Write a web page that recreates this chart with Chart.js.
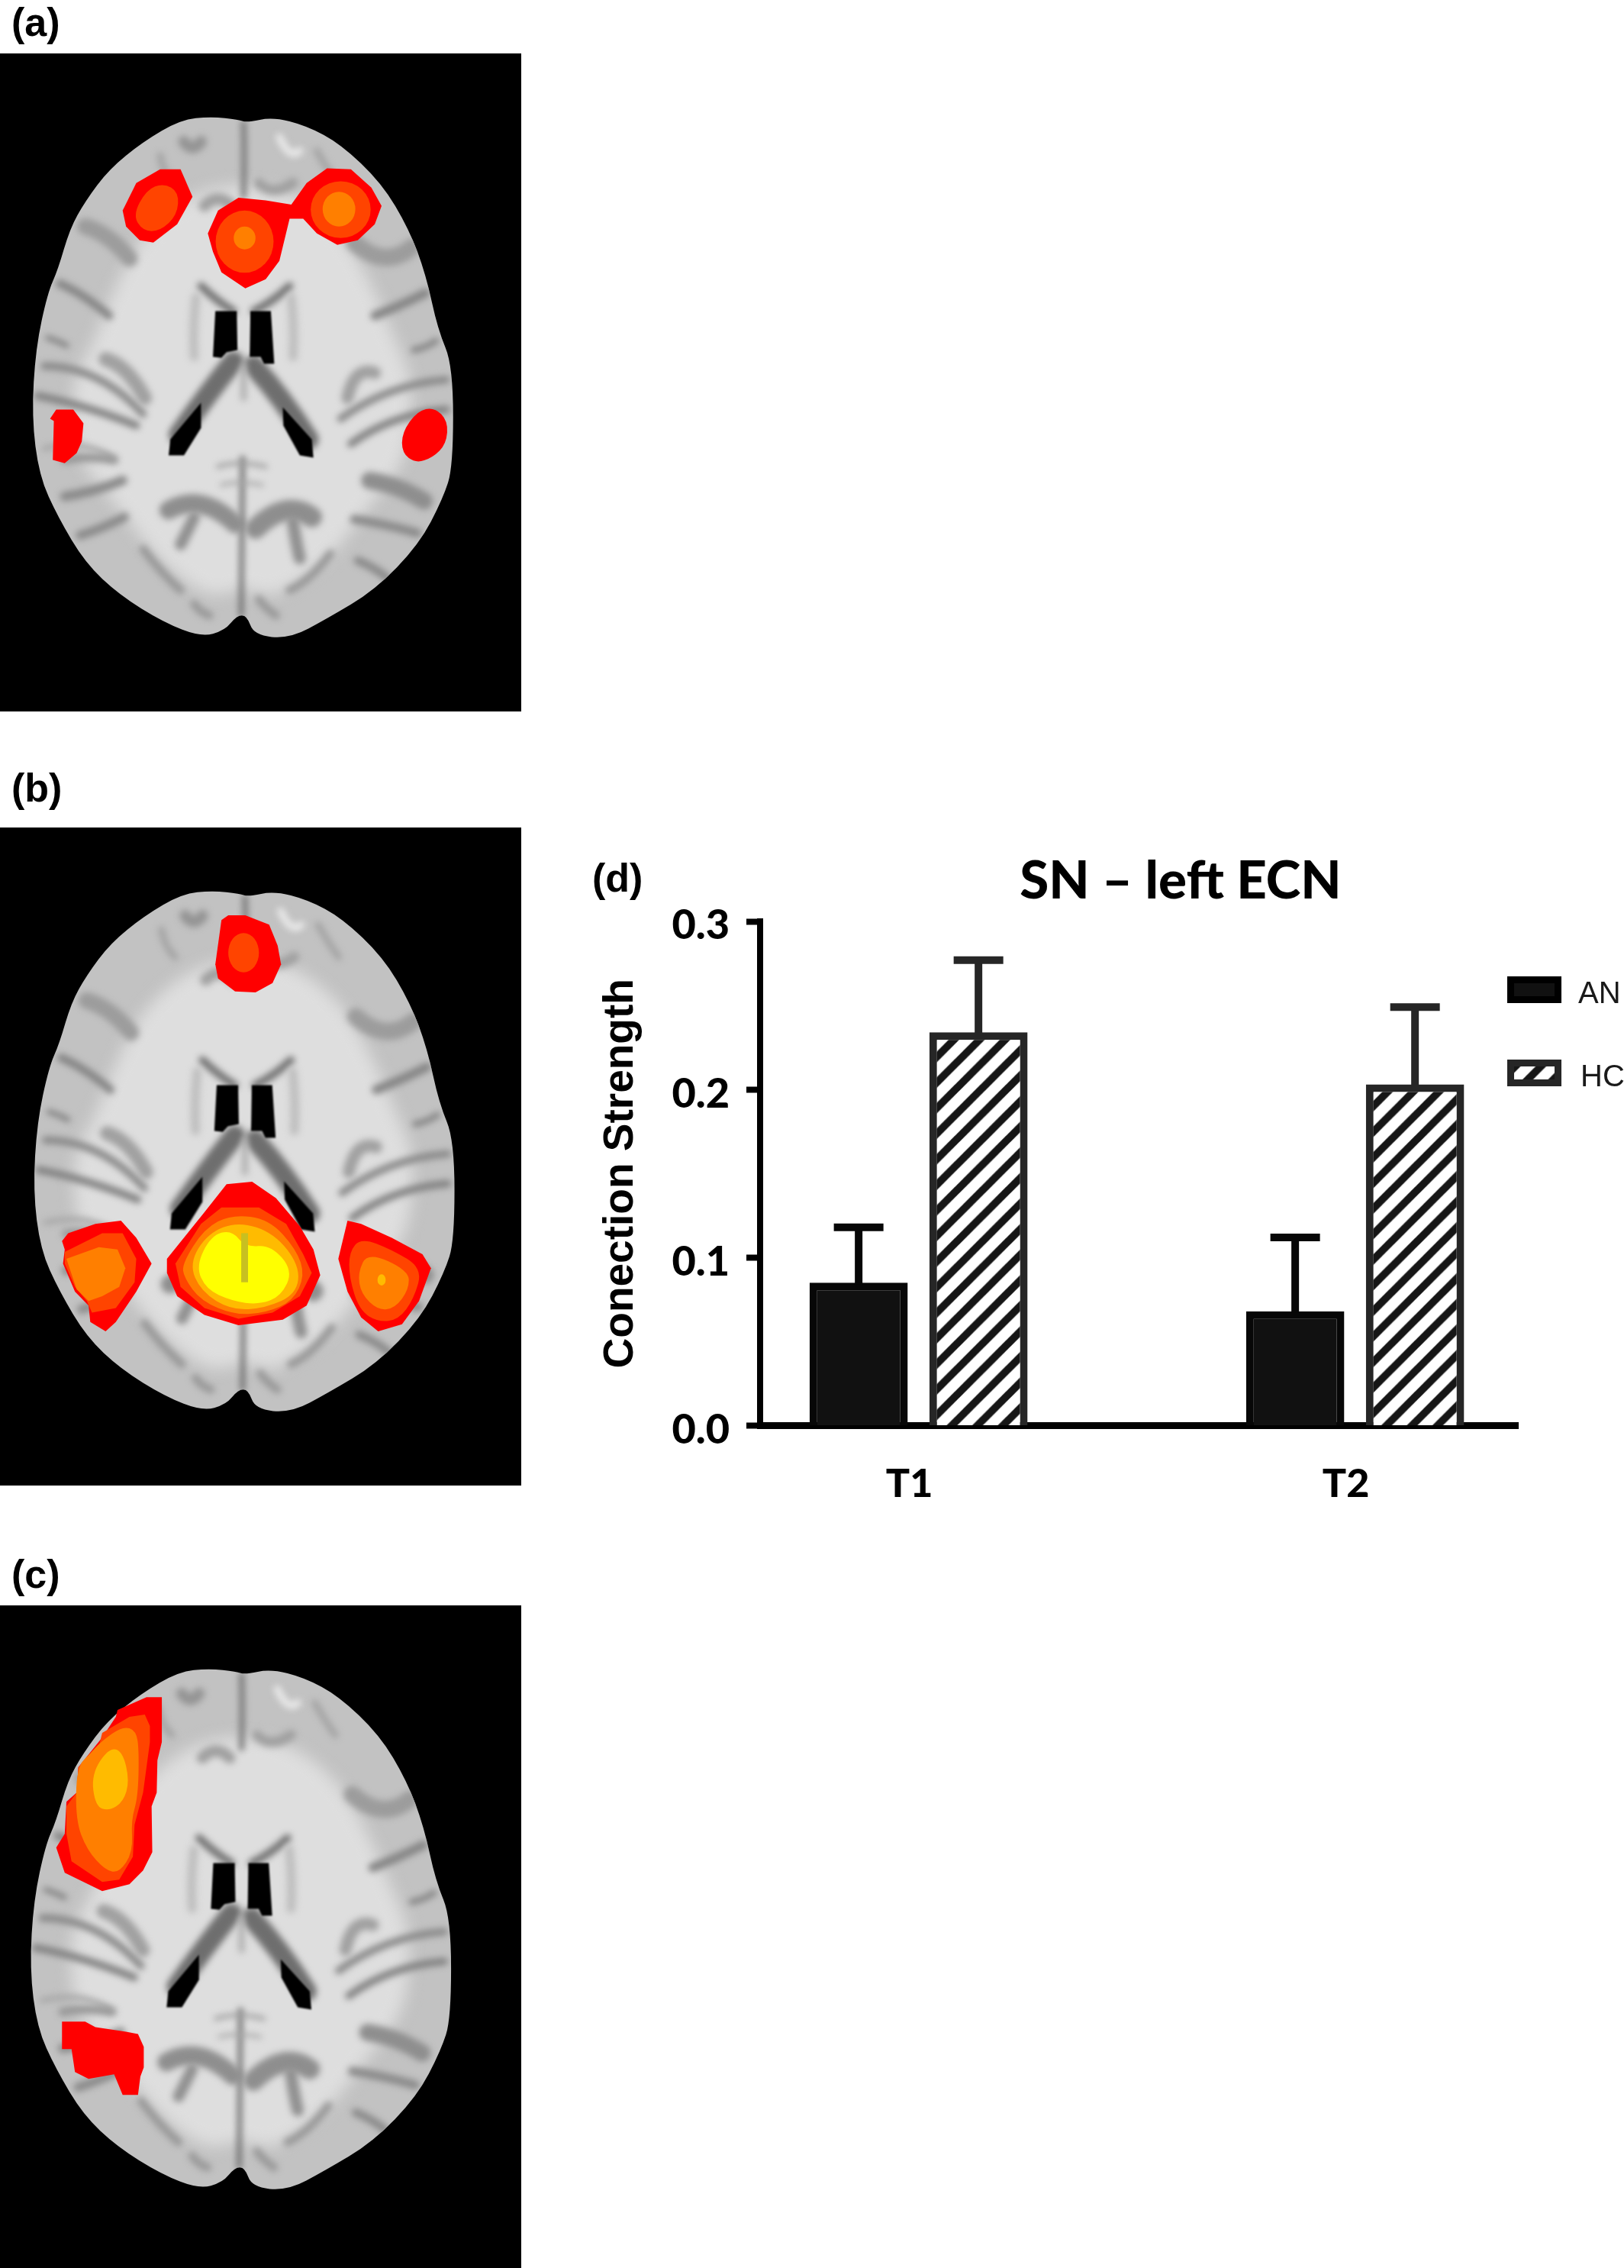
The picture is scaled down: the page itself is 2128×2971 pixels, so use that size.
<!DOCTYPE html>
<html><head><meta charset="utf-8">
<style>
html,body{margin:0;padding:0;background:#fff;width:2128px;height:2971px;overflow:hidden}
canvas{position:absolute;display:block}
.lab{position:absolute;font:bold 52px "Liberation Sans";color:#000;line-height:60px;white-space:nowrap}
</style>
<script src="https://cdn.jsdelivr.net/npm/chart.js@4"></script>
</head><body>
<canvas id="brains" width="700" height="2971" style="left:0;top:0"></canvas>
<div class="lab" style="left:15px;top:-1px">(a)</div>
<div class="lab" style="left:15px;top:1002px">(b)</div>
<div class="lab" style="left:15px;top:2032px">(c)</div>
<div class="lab" style="left:776px;top:1120px">(d)</div>
<canvas id="chart" width="1368" height="900" style="left:760px;top:1090px;width:1368px;height:900px"></canvas>
<script>
const categories = ['T1','T2'];
const seriesNames = ['AN','HC'];
const anValues = [0.085,0.068];
const hcValues = [0.234,0.203];
const anErrorTop = [0.118,0.112];
const hcErrorTop = [0.277,0.249];
const yTickValues = [0,0.1,0.2,0.3];
const categoryPositions = [1,2];
const titleText = 'SN \u2013 left ECN';
const yTitle = 'Conection Strength';

/* ---------- brain illustrations (a)-(c) ---------- */
const bc = document.getElementById('brains').getContext('2d');
const SX = 2.24;
const panels = {
  a:{top:70, bottom:932, sy:1.668, base:0, shift:0},
  b:{top:1084, bottom:1946, sy:1.633, base:1000, shift:4},
  c:{top:2103, bottom:2971, sy:1.666, base:2030, shift:-6}
};
const outline = [[700,262],[620,255],[530,262],[420,310],[320,370],[250,440],[205,500],[170,590],[140,640],[105,760],[93,910],[115,1040],[170,1130],[250,1230],[350,1300],[480,1360],[590,1392],[660,1378],[695,1345],[725,1345],[745,1388],[850,1396],[960,1352],[1100,1290],[1230,1190],[1300,1090],[1330,1020],[1330,800],[1285,720],[1250,600],[1200,500],[1120,400],[1000,315],[900,275],[800,256],[725,268]];
const innerWM = [[715,400],[860,420],[1000,500],[1090,620],[1170,760],[1210,830],[1200,1000],[1090,1100],[960,1230],[800,1310],[715,1280],[620,1310],[470,1230],[340,1100],[220,1000],[210,830],[270,760],[340,620],[430,500],[570,420]];
const sulci = [
 [[[715,268],[718,330],[715,430]],14,'#707070'],[[[712,1000],[710,1150],[708,1345]],12,'#5e5e5e'],
 [[[540,310],[565,335],[590,310]],34,'#949494'],[[[470,340],[480,380],[510,400]],20,'#a4a4a4'],
 [[[820,300],[850,350],[880,330]],22,'#e8e8e8'],[[[930,330],[960,370],[990,400]],20,'#a4a4a4'],
 [[[600,450],[640,420],[680,450]],34,'#a0a0a0'],[[[760,400],[800,430],[860,400]],30,'#a0a0a0'],
 [[[250,495],[320,510],[380,565]],48,'#9c9c9c'],[[[175,620],[240,640],[320,690]],24,'#858585'],[[[140,738],[170,745],[195,755]],16,'#858585'],
 [[[1040,530],[1130,590],[1210,540]],50,'#9c9c9c'],[[[1100,690],[1170,670],[1250,640]],26,'#858585'],[[[1215,765],[1250,760],[1280,745]],18,'#858585'],
 [[[130,800],[290,800],[420,905]],22,'#8a8a8a'],[[[110,865],[250,885],[400,930]],22,'#828282'],[[[310,785],[375,800],[425,870]],42,'#a0a0a0'],
 [[[1310,830],[1140,840],[1000,915]],22,'#8a8a8a'],[[[1310,895],[1150,905],[1030,970]],22,'#828282'],[[[1020,870],[1040,800],[1100,815]],36,'#a0a0a0'],
 [[[130,980],[250,960],[330,1000]],16,'#a8a8a8'],
 [[[190,1005],[260,995],[335,1005]],26,'#989898'],[[[190,1085],[280,1075],[360,1050]],28,'#8a8a8a'],[[[235,1170],[300,1155],[365,1130]],26,'#8a8a8a'],
 [[[1085,1050],[1170,1060],[1245,1095]],50,'#8e8e8e'],[[[1040,1135],[1130,1145],[1225,1165]],26,'#8a8a8a'],[[[1050,1225],[1100,1240],[1140,1265]],24,'#8a8a8a'],
 [[[495,1115],[590,1075],[690,1145]],54,'#8e8e8e'],[[[530,1190],[550,1160],[570,1130]],34,'#909090'],[[[750,1155],[840,1090],[915,1130]],60,'#8e8e8e'],[[[860,1140],[870,1190],[880,1220]],36,'#909090'],
 [[[420,1200],[470,1250],[530,1290]],24,'#989898'],[[[970,1210],[910,1270],[850,1290]],24,'#989898'],[[[570,1320],[590,1340],[615,1345]],24,'#999'],[[[760,1310],[780,1330],[810,1345]],24,'#999'],
 [[[640,1020],[700,1005],[780,1020]],12,'#a0a0a0'],[[[650,1060],[700,1050],[770,1060]],10,'#a8a8a8'],
 [[[590,625],[640,660],[685,680]],22,'#707070'],[[[850,625],[800,660],[745,680]],22,'#707070'],
 [[[685,790],[610,860],[525,950]],60,'#6e6e6e'],[[[745,800],[830,870],[905,960]],60,'#6e6e6e'],
 [[[715,800],[715,840],[715,870]],18,'#b0b0b0'],[[[575,650],[565,720],[570,780]],26,'#bebebe'],[[[855,650],[865,720],[860,780]],26,'#bebebe']
];
const ventricles = [
 [[632,680],[695,680],[697,765],[665,770],[650,782],[625,780]],
 [[735,680],[795,680],[805,795],[775,795],[765,780],[733,780]],
 [[590,880],[500,960],[495,995],[540,995],[590,935]],
 [[830,890],[915,960],[920,1000],[880,995],[832,930]]
];
function path(pts,fx,fy){bc.beginPath();pts.forEach((p,i)=>{const x=fx(p[0]),y=fy(p[1]);i?bc.lineTo(x,y):bc.moveTo(x,y)});bc.closePath();}
function smooth(pts,fx,fy){bc.beginPath();const n=pts.length;
  const mx=i=>(fx(pts[i%n][0])+fx(pts[(i+1)%n][0]))/2,my=i=>(fy(pts[i%n][1])+fy(pts[(i+1)%n][1]))/2;
  bc.moveTo(mx(n-1),my(n-1));
  pts.forEach((p,i)=>bc.quadraticCurveTo(fx(p[0]),fy(p[1]),mx(i),my(i)));bc.closePath();}
function curve(pts,fx,fy){bc.beginPath();bc.moveTo(fx(pts[0][0]),fy(pts[0][1]));
  bc.quadraticCurveTo(fx(pts[1][0]),fy(pts[1][1]),fx(pts[2][0]),fy(pts[2][1]));}
function drawBrain(pn){
  const bfx=x=>(x+pn.shift)/SX, bfy=y=>(y-117)/1.668+pn.top;
  bc.fillStyle='#000';bc.fillRect(0,pn.top,683,pn.bottom-pn.top);
  bc.save();smooth(outline,bfx,bfy);bc.fillStyle='#c2c2c2';bc.fill();bc.clip();
  bc.filter='blur(10px)';smooth(innerWM,bfx,bfy);bc.fillStyle='#dedede';bc.fill();
  bc.filter='blur(4px)';bc.lineCap='round';
  sulci.forEach(s=>{curve(s[0],bfx,bfy);bc.lineWidth=s[1]/SX;bc.strokeStyle=s[2];bc.stroke();});
  bc.filter='blur(0.8px)';bc.fillStyle='#000';
  ventricles.forEach(v=>{path(v,bfx,bfy);bc.fill();});
  bc.filter='none';bc.restore();
}
function poly(pn,pts,col){smooth(pts,x=>x/SX,y=>y/pn.sy+pn.base);bc.fillStyle=col;bc.fill();}
function sharp(pn,pts,col){path(pts,x=>x/SX,y=>y/pn.sy+pn.base);bc.fillStyle=col;bc.fill();}
function ell(pn,cx,cy,rx,ry,col){bc.beginPath();bc.ellipse(cx/SX,cy/pn.sy+pn.base,rx/SX,ry/pn.sy,0,0,Math.PI*2);bc.fillStyle=col;bc.fill();}
const R='#ff0000',O1='#ff4400',O2='#ff7f00',O3='#ffbb00',Y='#ffff00';
Object.values(panels).forEach(drawBrain);
(function(){const p=panels.a;
 sharp(p,[[360,460],[400,400],[470,370],[530,370],[565,430],[520,490],[450,530],[410,525],[370,495]],R);
 poly(p,[[390,470],[430,415],[480,400],[525,420],[520,470],[470,505],[420,505]],O1);
 sharp(p,[[610,510],[640,460],[700,432],[780,438],[855,447],[900,400],[960,368],[1030,370],[1090,410],[1120,450],[1100,490],[1050,525],[990,535],[930,510],[890,478],[850,478],[820,570],[780,610],[720,630],[650,595],[625,550]],R);
 ell(p,718,528,85,68,O1);ell(p,1000,458,88,62,O1);ell(p,718,520,32,25,O2);ell(p,995,457,48,38,O2);
 sharp(p,[[147,915],[165,895],[215,895],[245,925],[240,965],[225,990],[190,1012],[155,1005],[158,920]],R);
 poly(p,[[1180,945],[1225,898],[1275,890],[1315,920],[1310,970],[1270,1000],[1220,1012],[1180,990]],R);
})();
(function(){const p=panels.b;
 sharp(p,[[632,430],[650,335],[670,325],[720,325],[790,345],[815,390],[825,430],[800,470],[750,490],[690,488],[640,460]],R);
 ell(p,715,405,45,42,O1);
 sharp(p,[[490,1060],[600,960],[665,900],[740,895],[810,930],[880,990],[920,1040],[940,1095],[900,1160],[830,1190],[700,1202],[600,1180],[520,1140],[490,1090]],R);
 sharp(p,[[515,1070],[590,985],[650,950],[760,950],[840,985],[890,1050],[915,1090],[880,1140],[800,1175],[700,1188],[600,1165],[530,1120]],O1);
 poly(p,[[535,1070],[600,995],[680,965],[790,975],[870,1040],[895,1095],[860,1150],[780,1175],[690,1180],[590,1150],[540,1100]],O2);
 poly(p,[[555,1070],[610,1005],[700,980],[805,1005],[880,1075],[870,1135],[780,1165],[680,1170],[590,1130]],O3);
 poly(p,[[575,1075],[620,1010],[680,998],[720,1035],[795,1030],[860,1085],[825,1140],[760,1158],[680,1150],[605,1125]],Y);
 sharp(p,[[708,1005],[728,1005],[728,1110],[708,1110]],'#c8c020');
 sharp(p,[[182,1022],[200,1005],[280,985],[355,978],[400,1015],[445,1070],[400,1130],[340,1195],[310,1215],[265,1195],[260,1160],[220,1130],[185,1070],[190,1040]],R);
 sharp(p,[[190,1045],[300,1005],[360,1005],[400,1060],[395,1110],[340,1165],[270,1175],[255,1150],[220,1120],[190,1070]],O1);
 sharp(p,[[195,1060],[290,1035],[345,1040],[368,1080],[350,1120],[300,1140],[260,1150],[225,1125]],O2);
 sharp(p,[[1020,978],[1060,985],[1150,1015],[1240,1050],[1265,1080],[1230,1150],[1180,1200],[1110,1215],[1060,1185],[1020,1130],[993,1060]],R);
 poly(p,[[1025,1045],[1060,1015],[1150,1040],[1240,1080],[1215,1145],[1170,1190],[1110,1195],[1055,1170],[1025,1100]],O1);
 poly(p,[[1050,1090],[1080,1045],[1200,1085],[1200,1125],[1160,1165],[1110,1170],[1060,1135]],O2);
 ell(p,1120,1105,12,12,O3);
})();
(function(){const p=panels.c;
 sharp(p,[[345,350],[430,322],[475,322],[475,420],[462,460],[460,530],[445,560],[447,660],[420,700],[380,730],[300,745],[190,705],[165,650],[190,620],[195,550],[225,530],[230,475],[300,410],[340,365]],R);
 sharp(p,[[300,400],[380,365],[425,360],[440,385],[440,420],[420,530],[395,600],[390,670],[350,720],[300,725],[210,680],[195,620],[195,560],[225,530],[230,475],[290,430]],O1);
 poly(p,[[295,420],[360,385],[400,395],[408,440],[405,540],[385,590],[390,660],[350,705],[310,700],[255,655],[222,590],[225,475],[265,445]],O2);
 poly(p,[[268,490],[320,432],[360,440],[380,505],[362,550],[320,570],[280,560]],O3);
 sharp(p,[[182,1030],[250,1030],[280,1042],[370,1052],[405,1057],[422,1085],[422,1130],[412,1150],[405,1190],[360,1190],[335,1145],[260,1155],[220,1140],[210,1090],[182,1090]],R);
})();

/* ---------- bar chart (d) ---------- */
function hatch(period,thick,ink,shift){
  const c=document.createElement('canvas');c.width=c.height=period;
  const g=c.getContext('2d');g.fillStyle='#fff';g.fillRect(0,0,period,period);
  g.strokeStyle=ink;g.lineWidth=thick;
  [0,period,period*2].forEach(s=>{g.beginPath();g.moveTo(s+5,-5);g.lineTo(s-period-5,period+5);g.stroke();});
  const pat=g.createPattern(c,'repeat');
  pat.setTransform(new DOMMatrix().translate(shift,0).scale(33.5/period));
  return pat;
}
const ctx=document.getElementById('chart').getContext('2d');
const hcFill=hatch(34,10,'#161616',25);
const errorBars={id:'errorBars',afterDatasetsDraw(chart){
  const g=chart.ctx,y=chart.scales.y;
  chart.data.datasets.forEach((d,i)=>{
    chart.getDatasetMeta(i).data.forEach((b,j)=>{
      const top=y.getPixelForValue(d.errorTop[j]);
      g.save();g.strokeStyle=d.borderColor;g.lineWidth=10;
      g.beginPath();g.moveTo(b.x,b.y+2);g.lineTo(b.x,top);g.stroke();
      g.beginPath();g.moveTo(b.x-32.5,top);g.lineTo(b.x+32.5,top);g.stroke();g.restore();
    });
  });
}};
const legendBoxes={id:'legendBoxes',afterDraw(chart){
  const g=chart.ctx,rows=[189,298],tx=[1308,1311],ty=[213,322];
  chart.data.datasets.forEach((d,i)=>{
    g.save();g.fillStyle=d.backgroundColor;
    g.fillRect(1215,rows[i],71,35);
    g.strokeStyle=i?d.borderColor:'#000';g.lineWidth=9;g.strokeRect(1219.5,rows[i]+4.5,62,26);
    g.fillStyle='#1a1a1a';g.font='40px "Liberation Sans"';g.textBaseline='middle';
    g.fillText(d.label,tx[i],ty[i]);g.restore();
  });
}};
const shiftTitle={id:'shiftTitle',afterLayout(chart){
  const t=chart.titleBlock,c=1547-760,w=t.right-t.left;t.left=c-w/2;t.right=c+w/2;
}};
new Chart(ctx,{
  type:'bar',
  data:{labels:categories,datasets:[
    {label:seriesNames[0],data:categoryPositions.map((x,i)=>({x,y:anValues[i]})),errorTop:anErrorTop,backgroundColor:'#111111',borderColor:'#070707',borderWidth:10},
    {label:seriesNames[1],data:categoryPositions.map((x,i)=>({x,y:hcValues[i]})),errorTop:hcErrorTop,backgroundColor:hcFill,borderColor:'#262626',borderWidth:10}
  ]},
  options:{
    responsive:false,devicePixelRatio:1,animation:false,
    categoryPercentage:0.549,barPercentage:0.82,
    layout:{padding:{left:0,right:139,top:0,bottom:0}},
    plugins:{
      legend:{display:false},tooltip:{enabled:false},
      title:{display:true,text:titleText,color:'#000',font:{family:'Lato',weight:'900',size:69},padding:{top:23,bottom:11.2}}
    },
    scales:{
      x:{type:'linear',offset:false,min:0.637,max:2.373,
        afterBuildTicks(s){s.ticks=categoryPositions.map(v=>({value:v}));},
        afterFit(s){s.height=122.5;},
        grid:{display:false,drawTicks:false},
        border:{display:true,color:'#000',width:9},
        ticks:{color:'#000',padding:46,labelOffset:-12,autoSkip:false,maxRotation:0,font:{family:'Lato',weight:'900',size:52},callback:v=>categories[v-1]}
      },
      y:{min:0,max:0.3,
        afterBuildTicks(s){s.ticks=yTickValues.map(v=>({value:v}));},
        afterFit(s){s.width=236;},
        grid:{drawOnChartArea:false,drawTicks:true,tickLength:18,tickWidth:8,tickColor:'#000'},
        border:{display:true,color:'#000',width:8},
        title:{display:true,text:yTitle,color:'#000',font:{family:'Liberation Sans',weight:'bold',size:55},padding:{top:21,bottom:0}},
        ticks:{color:'#000',padding:22,labelOffset:6,font:{family:'Lato',weight:'900',size:54},callback:v=>v.toFixed(1)}
      }
    }
  },
  plugins:[errorBars,legendBoxes,shiftTitle]
});
</script>
</body></html>
